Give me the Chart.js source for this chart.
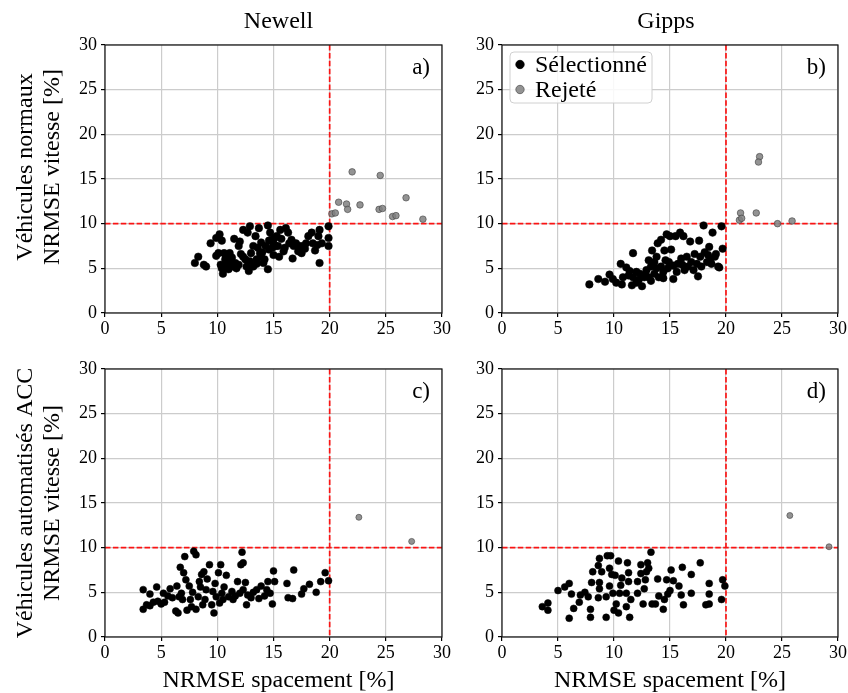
<!DOCTYPE html>
<html>
<head>
<meta charset="utf-8">
<script src="https://cdn.jsdelivr.net/npm/chart.js@4.4.1/dist/chart.umd.min.js"></script>
<style>
  body { margin: 0; background: #fff; }
  #wrap { position: relative; width: 848px; height: 693px; }
  canvas { position: absolute; }
</style>
</head>
<body>
<div id="wrap">
  <canvas id="chartA" width="460" height="345" style="left:0;top:0"></canvas>
  <canvas id="chartB" width="388" height="345" style="left:460px;top:0"></canvas>
  <canvas id="chartC" width="460" height="348" style="left:0;top:345px"></canvas>
  <canvas id="chartD" width="388" height="348" style="left:460px;top:345px"></canvas>
</div>
<script>
// data, [spacing NRMSE %, speed NRMSE %]

// a) Newell, normal vehicles
const newellNormSel = [
  [8.0,5.6],[8.3,6.3],[8.8,5.4],[9.0,5.2],[9.4,7.8],[9.9,8.4],[10.2,8.8],[10.4,8.1],[9.9,6.4],[10.1,6.7],
  [10.3,5.4],[10.4,5.0],[10.5,4.4],[10.6,6.7],[10.7,6.0],[10.8,6.3],[11.0,5.6],[11.1,6.7],[11.3,6.2],[11.4,5.2],
  [11.5,8.3],[11.6,5.6],[11.7,5.0],[11.9,7.5],[12.0,8.0],[12.3,9.3],[12.3,6.3],[12.5,6.0],[12.6,5.2],[12.7,9.0],
  [12.8,4.7],[12.9,9.7],[13.0,6.7],[13.2,5.2],[13.2,7.5],[13.4,8.6],[13.5,6.0],[13.6,7.3],[13.7,9.5],[13.8,6.7],
  [13.9,6.3],[14.1,5.6],[14.2,6.0],[14.3,7.5],[14.5,4.9],[14.5,9.8],[14.6,8.1],[14.7,9.0],[14.8,8.2],[14.9,7.3],
  [15.0,7.8],[15.0,6.5],[15.2,7.5],[15.3,8.6],[15.4,7.5],[15.6,9.3],[15.7,8.3],[15.9,6.9],[16.1,9.5],[16.3,9.0],
  [16.4,7.8],[16.6,8.2],[16.7,6.1],[16.8,7.5],[17.0,7.8],[17.2,6.9],[17.3,7.5],[17.5,6.7],[17.6,7.5],[17.9,7.8],
  [18.1,8.6],[18.4,9.0],[18.5,7.8],[18.7,7.0],[19.0,8.6],[19.1,5.6],[19.1,9.3],[19.3,7.8],[19.9,9.7],[19.9,8.4],
  [19.9,7.5],[11.2,5.9],[11.0,4.9],[12.1,6.6],[13.5,5.5],[14.0,6.8],[15.5,6.3],[14.6,7.1],[12.9,5.8],[10.6,5.3],
  [11.9,5.4],[13.9,7.9],[16.0,7.3],[17.8,7.2],[18.9,7.6],[15.1,8.4]
];
const newellNormRej = [
  [22.0,15.8],[24.5,15.4],[20.8,12.4],[21.5,12.2],[21.6,11.6],[22.7,12.1],[24.4,11.6],[24.7,11.7],
  [26.8,12.9],[25.6,10.8],[25.9,10.9],[28.3,10.5],[20.2,11.1],[20.5,11.2]
];

// b) Gipps, normal vehicles
const gippsNormSel = [
  [7.8,3.2],[8.6,3.8],[9.2,3.5],[9.6,4.3],[9.9,3.8],[10.2,3.4],[10.7,3.2],[10.6,5.5],[10.8,4.0],[11.1,5.1],
  [11.3,4.2],[11.6,3.1],[11.7,6.7],[11.7,4.0],[12.0,4.6],[12.2,3.7],[12.3,4.4],[12.5,3.0],[12.7,4.0],[12.9,4.8],
  [13.1,5.9],[13.1,4.0],[13.3,5.2],[13.4,7.0],[13.6,4.4],[13.6,5.7],[13.8,5.0],[13.9,7.8],[14.0,4.0],[14.2,8.2],
  [14.2,5.2],[14.4,4.6],[14.5,7.0],[14.6,5.9],[14.7,8.8],[14.8,5.0],[14.9,5.7],[15.0,8.6],[15.1,7.1],[15.3,5.3],
  [15.3,3.8],[15.5,8.6],[15.7,5.5],[15.9,9.0],[16.0,6.1],[16.2,8.6],[16.3,4.8],[16.5,6.3],[16.6,5.2],[16.8,8.0],
  [16.9,5.7],[17.1,4.8],[17.2,6.6],[17.4,5.5],[17.5,4.1],[17.6,8.1],[17.7,6.3],[17.8,5.2],[18.0,9.8],[18.1,6.8],
  [18.3,5.7],[18.4,6.5],[18.5,7.4],[18.7,5.5],[18.8,9.0],[19.0,6.3],[19.1,6.6],[19.3,5.2],[19.4,5.1],[19.6,9.7],
  [19.7,7.2],[12.0,3.4],[12.8,4.3],[13.3,3.6],[14.4,3.9],[15.6,4.6],[16.1,5.4],[18.6,6.0],[11.4,4.7],[13.8,6.3]
];
const gippsNormRej = [
  [23.0,17.5],[22.9,16.9],[21.3,11.2],[21.2,10.4],[21.4,10.6],[22.7,11.2],[24.6,10.0],[25.9,10.3]
];

// c) Newell, ACC vehicles
const newellAccSel = [
  [3.4,5.3],[3.4,3.1],[3.7,3.6],[4.0,4.8],[4.0,3.5],[4.3,3.9],[4.6,5.6],[4.7,4.0],[5.2,4.9],[5.3,3.9],
  [5.8,5.4],[6.0,4.4],[6.3,2.9],[6.4,5.7],[6.5,2.7],[6.6,4.5],[6.7,7.8],[6.8,4.9],[6.9,4.2],[7.0,7.2],
  [7.1,9.0],[7.2,6.4],[7.3,3.0],[7.5,5.7],[7.6,4.2],[7.8,5.0],[7.9,9.6],[8.1,9.2],[8.1,3.1],[8.3,4.5],
  [8.4,6.2],[8.6,7.0],[8.7,3.6],[8.8,7.3],[8.9,4.2],[9.0,5.3],[9.1,6.5],[9.3,8.1],[9.5,3.6],[9.7,2.7],
  [9.8,6.0],[9.9,4.5],[10.1,7.2],[10.2,3.8],[10.3,8.1],[10.4,4.9],[10.5,4.2],[10.8,6.9],[11.0,4.5],[11.3,5.1],
  [11.4,4.2],[11.8,6.2],[12.0,4.9],[12.1,8.1],[12.2,9.5],[12.3,5.3],[12.3,8.3],[12.5,6.1],[12.6,3.6],[12.7,4.7],
  [13.0,4.4],[13.5,5.3],[13.7,4.3],[13.9,5.7],[14.4,5.3],[14.5,6.2],[14.7,4.9],[14.9,3.7],[15.0,7.4],[15.1,6.2],
  [16.2,6.0],[16.3,4.4],[16.7,4.3],[16.8,7.5],[17.5,4.8],[17.7,5.4],[18.2,5.9],[18.8,5.0],[19.2,6.2],[19.6,7.2],
  [19.9,6.3],[5.0,3.7],[5.6,4.6],[7.7,3.4],[8.5,5.6],[9.6,5.1],[10.6,5.6],[11.6,4.6],[13.2,5.0],[14.2,4.6]
];
const newellAccRej = [[22.6,13.4],[27.3,10.7]];

// d) Gipps, ACC vehicles
const gippsAccSel = [
  [3.6,3.4],[4.1,3.8],[4.1,3.0],[5.0,5.2],[5.6,5.6],[6.0,6.0],[6.0,2.1],[6.2,4.8],[6.4,3.2],[6.9,3.9],
  [7.0,4.7],[7.4,5.0],[7.7,4.5],[7.9,3.1],[7.9,2.2],[8.0,6.1],[8.1,7.3],[8.6,4.4],[8.6,8.0],[8.7,5.4],
  [8.7,6.1],[8.7,8.8],[8.9,7.3],[9.3,4.5],[9.3,2.2],[9.4,9.1],[9.6,7.7],[9.6,5.7],[9.7,9.1],[9.8,7.0],
  [9.9,4.9],[10.0,3.0],[10.1,6.9],[10.2,3.7],[10.4,2.7],[10.4,8.5],[10.5,4.9],[10.6,5.8],[10.7,6.6],[11.1,3.4],
  [11.1,4.9],[11.2,8.3],[11.3,7.2],[11.3,6.2],[11.4,2.2],[11.5,4.2],[12.1,6.2],[12.1,4.9],[12.4,8.1],[12.4,7.1],
  [12.6,3.7],[12.7,5.4],[12.8,6.4],[12.9,7.3],[13.0,8.3],[13.1,7.7],[13.3,9.5],[13.4,3.7],[13.7,3.7],[13.9,6.5],
  [14.0,4.6],[14.4,3.1],[14.5,4.2],[14.7,6.4],[14.8,4.8],[15.0,5.2],[15.1,7.5],[15.3,6.3],[15.8,5.7],[16.0,4.7],
  [16.1,7.8],[16.2,3.6],[16.9,7.0],[16.9,4.9],[17.7,8.3],[18.2,3.6],[18.5,3.7],[18.5,6.0],[18.5,4.8],[19.6,4.2],
  [19.7,6.4],[19.9,5.7]
];
const gippsAccRej = [[25.7,13.6],[29.2,10.1]];

// axis settings and reference lines
const axisMax = 30;
const tickStep = 5;
const spacingLimit = 20;
const speedLimit = 10;
const labelSel = 'Sélectionné';
const labelRej = 'Rejeté';
const xTitle = 'NRMSE spacement [%]';
const yTitleNorm = ['Véhicules normaux', 'NRMSE vitesse [%]'];
const yTitleAcc = ['Véhicules automatisés ACC', 'NRMSE vitesse [%]'];

const serif = 'Liberation Serif, Times New Roman, serif';

// draw frame, threshold lines, panel letters, titles and legend
const decorPlugin = {
  id: 'decor',
  beforeDatasetsDraw(chart, args, opts) {
    const ctx = chart.ctx;
    const ca = chart.chartArea;
    const xs = chart.scales.x;
    const ys = chart.scales.y;
    ctx.save();
    ctx.beginPath();
    ctx.rect(ca.left, ca.top, ca.right - ca.left, ca.bottom - ca.top);
    ctx.clip();
    ctx.strokeStyle = 'rgba(255,0,0,0.9)';
    ctx.lineWidth = 1.7;
    ctx.setLineDash([5.5, 2.4]);
    const px = xs.getPixelForValue(spacingLimit);
    const py = ys.getPixelForValue(speedLimit);
    ctx.beginPath();
    ctx.moveTo(px, ca.top);
    ctx.lineTo(px, ca.bottom);
    ctx.moveTo(ca.left, py);
    ctx.lineTo(ca.right, py);
    ctx.stroke();
    ctx.restore();
  },
  afterDraw(chart, args, opts) {
    const ctx = chart.ctx;
    const ca = chart.chartArea;
    const midX = (ca.left + ca.right) / 2;
    ctx.save();
    // frame
    ctx.strokeStyle = '#111';
    ctx.lineWidth = 1.2;
    ctx.strokeRect(ca.left, ca.top, ca.right - ca.left, ca.bottom - ca.top);
    // panel letter
    ctx.fillStyle = '#000';
    ctx.font = '23px ' + serif;
    ctx.textAlign = 'right';
    ctx.textBaseline = 'middle';
    ctx.fillText(opts.letter, ca.right - 12, ca.top + 23);
    // column title
    ctx.font = '24px ' + serif;
    ctx.textAlign = 'center';
    if (opts.title) {
      ctx.fillText(opts.title, midX + opts.shift, 21.5);
    }
    // x title
    if (opts.xTitle) {
      ctx.fillText(opts.xTitle, midX + opts.shift, ca.bottom + 43.5);
    }
    // two-line y title, rotated
    if (opts.yTitle) {
      const cy = (ca.top + ca.bottom) / 2 + opts.yTitleShift;
      opts.yTitle.forEach((line, i) => {
        ctx.save();
        ctx.translate(25.5 + i * 27.5, cy);
        ctx.rotate(-Math.PI / 2);
        ctx.fillText(line, 0, 0);
        ctx.restore();
      });
    }
    // legend
    if (opts.legend) {
      const bx = ca.left + 8, by = ca.top + 7, bw = 142, bh = 51;
      ctx.fillStyle = 'rgba(255,255,255,0.85)';
      ctx.strokeStyle = '#d0d0d0';
      ctx.lineWidth = 1;
      ctx.beginPath();
      ctx.roundRect(bx, by, bw, bh, 4);
      ctx.fill();
      ctx.stroke();
      chart.data.datasets.forEach((ds, i) => {
        const y = by + 12.5 + i * 25;
        ctx.beginPath();
        ctx.arc(bx + 10, y, 4.2, 0, Math.PI * 2);
        ctx.fillStyle = ds.backgroundColor;
        ctx.fill();
        ctx.strokeStyle = ds.borderColor;
        ctx.lineWidth = 0.8;
        ctx.stroke();
        ctx.fillStyle = '#000';
        ctx.textAlign = 'left';
        ctx.fillText(ds.label, bx + 25, y + 1);
      });
    }
    ctx.restore();
  }
};

function toPoints(list) {
  return list.map(p => ({ x: p[0], y: p[1] }));
}

function makePanel(id, sel, rej, cfg) {
  let config = {
    type: 'scatter',
    data: {
      datasets: [
        {
          label: labelSel,
          data: toPoints(sel),
          backgroundColor: '#000000',
          borderColor: '#000000',
          borderWidth: 0.5,
          pointRadius: cfg.rSel,
        },
        {
          label: labelRej,
          data: toPoints(rej),
          backgroundColor: 'rgba(128,128,128,0.85)',
          borderColor: 'rgba(70,70,70,0.8)',
          borderWidth: 0.8,
          pointRadius: cfg.rRej,
        },
      ],
    },
    options: {
      responsive: false,
      animation: false,
      devicePixelRatio: 1,
      layout: { padding: cfg.padding },
      scales: {
        x: {
          type: 'linear',
          min: 0,
          max: axisMax,
          ticks: { stepSize: tickStep, color: '#000', padding: 1, font: { family: serif, size: 18 } },
          grid: { color: '#cccccc', lineWidth: 1.2, tickLength: 4, tickColor: '#000', tickWidth: 1.2 },
          border: { display: false },
          afterFit: s => { s.height = cfg.xHeight; },
        },
        y: {
          type: 'linear',
          min: 0,
          max: axisMax,
          ticks: { stepSize: tickStep, color: '#000', padding: 4, font: { family: serif, size: 18 } },
          grid: { color: '#cccccc', lineWidth: 1.2, tickLength: 4, tickColor: '#000', tickWidth: 1.2 },
          border: { display: false },
          afterFit: s => { s.width = cfg.yWidth; },
        },
      },
      plugins: {
        legend: { display: false },
        tooltip: { enabled: false },
        decor: {
          letter: cfg.letter, title: cfg.title, shift: cfg.shift || 0, xTitle: cfg.xTitle,
          legend: cfg.legend, yTitle: cfg.yTitle, yTitleShift: cfg.yTitleShift || 0,
        },
      },
    },
    plugins: [decorPlugin],
  };
  return new Chart(document.getElementById(id), config);
}

// a) top left
makePanel('chartA', newellNormSel, newellNormRej, {
  letter: 'a)', title: 'Newell', shift: 5, legend: false,
  yTitle: yTitleNorm, yTitleShift: -12,
  padding: { top: 45, right: 18, left: 0, bottom: 0 },
  xHeight: 32, yWidth: 105, rSel: 3.8, rRej: 3.3,
});

// b) top right
makePanel('chartB', gippsNormSel, gippsNormRej, {
  letter: 'b)', title: 'Gipps', shift: -4, legend: true,
  padding: { top: 45, right: 10, left: 0, bottom: 0 },
  xHeight: 32, yWidth: 42, rSel: 3.8, rRej: 3.3,
});

// c) bottom left
makePanel('chartC', newellAccSel, newellAccRej, {
  letter: 'c)', shift: 5, legend: false,
  yTitle: yTitleAcc, yTitleShift: 0,
  xTitle: xTitle,
  padding: { top: 24, right: 18, left: 0, bottom: 0 },
  xHeight: 56, yWidth: 105, rSel: 3.5, rRej: 3.0,
});

// d) bottom right
makePanel('chartD', gippsAccSel, gippsAccRej, {
  letter: 'd)', legend: false,
  xTitle: xTitle,
  padding: { top: 24, right: 10, left: 0, bottom: 0 },
  xHeight: 56, yWidth: 42, rSel: 3.5, rRej: 3.0,
});
</script>
</body>
</html>
